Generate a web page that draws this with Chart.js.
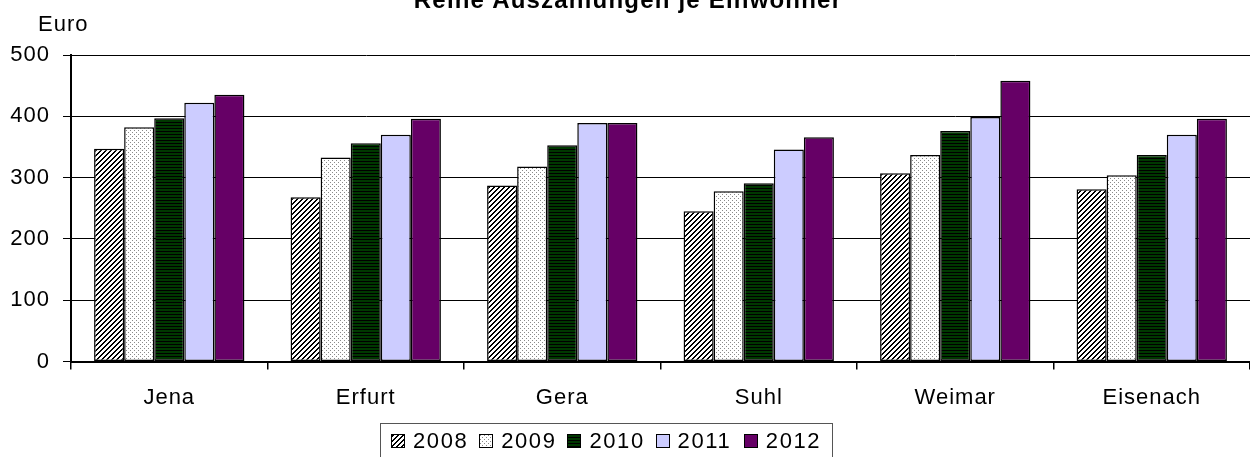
<!DOCTYPE html>
<html>
<head>
<meta charset="utf-8">
<script src="https://cdn.jsdelivr.net/npm/chart.js@4/dist/chart.umd.min.js"></script>
<style>
  body { margin: 0; background: #fff; font-family: "Liberation Sans", Arial, sans-serif; }
  #wrap { position: relative; width: 1250px; height: 457px; overflow: hidden; }
  #title { position: absolute; left: 0; width: 1256px; top: -14px; text-align: center; font-weight: bold; font-size: 24px; letter-spacing: 1.2px; color: #000; }
  #unit { position: absolute; left: 38px; top: 11px; font-size: 22px; letter-spacing: 1px; color: #000; }
  #legend { position: absolute; left: 380px; top: 423px; width: 453px; height: 40px; border: 1px solid #555; box-sizing: border-box;
            display: flex; align-items: flex-start; padding: 4px 0 0 10px; font-size: 22px; letter-spacing: 1.6px; color: #000; }
  #legend .item { display: flex; align-items: center; width: 90px; }
  #legend canvas { border: 1px solid #000; margin-right: 8px; }
</style>
</head>
<body>
<div id="wrap">
  <canvas id="chart"></canvas>
  <div id="title">Reine Auszahlungen je Einwohner</div>
  <div id="unit">Euro</div>
  <div id="legend"></div>
</div>
<script>
// Reine Auszahlungen je Einwohner, Euro, by city and year
const cities = ['Jena', 'Erfurt', 'Gera', 'Suhl', 'Weimar', 'Eisenach'];
const years = ['2008', '2009', '2010', '2011', '2012'];

const values2008 = [347, 268, 287, 245, 307, 281];
const values2009 = [382, 333, 318, 278, 337, 304];
const values2010 = [397, 356, 353, 291, 376, 337];
const values2011 = [422, 370, 389, 346, 399, 370];
const values2012 = [435, 396, 389, 366, 458, 396];

const yTicks = [0, 100, 200, 300, 400, 500];

// Build the fill patterns used by Excel-style bars
function makePattern(w, h, paint) {
  const c = document.createElement('canvas');
  c.width = w;
  c.height = h;
  const ctx = c.getContext('2d');
  paint(ctx, w, h);
  return c;
}

const patternTiles = [
  // 2008: black diagonal hatch on white
  makePattern(5, 5, (ctx, w, h) => {
    ctx.fillStyle = '#fff';
    ctx.fillRect(0, 0, w, h);
    ctx.fillStyle = '#000';
    for (let x = 0; x < w; x++) {
      for (let y = 0; y < h; y++) {
        if ((x + y) % 5 < 2) ctx.fillRect(x, y, 1, 1);
      }
    }
  }),
  // 2009: sparse grey dots on white
  makePattern(4, 4, (ctx, w, h) => {
    ctx.fillStyle = '#fff';
    ctx.fillRect(0, 0, w, h);
    ctx.fillStyle = '#8a8a8a';
    ctx.fillRect(0, 0, 1, 1);
    ctx.fillRect(2, 2, 1, 1);
  }),
  // 2010: dark green with black horizontal stripes
  makePattern(3, 3, (ctx, w, h) => {
    ctx.fillStyle = '#003800';
    ctx.fillRect(0, 0, w, h);
    ctx.fillStyle = '#000';
    ctx.fillRect(0, 2, w, 1);
  }),
  // 2011: light lavender
  makePattern(1, 1, (ctx) => { ctx.fillStyle = '#ccccff'; ctx.fillRect(0, 0, 1, 1); }),
  // 2012: purple
  makePattern(1, 1, (ctx) => { ctx.fillStyle = '#660066'; ctx.fillRect(0, 0, 1, 1); })
];

const mainCtx = document.getElementById('chart').getContext('2d');
const fills = patternTiles.map(t => mainCtx.createPattern(t, 'repeat'));
const seriesValues = [values2008, values2009, values2010, values2011, values2012];

const datasets = years.map((year, i) => ({
  label: year,
  data: seriesValues[i],
  backgroundColor: fills[i],
  borderColor: '#000',
  borderWidth: 1.5,
  borderSkipped: false,
  barPercentage: 1,
  categoryPercentage: 0.765
}));

// Excel text is a bit wider than canvas text; canvas resets letterSpacing on resize
const letterSpacingPlugin = {
  id: 'letterSpacing',
  beforeUpdate(chart) { chart.ctx.letterSpacing = '1px'; },
  beforeDraw(chart) { chart.ctx.letterSpacing = '1px'; }
};

new Chart(mainCtx, {
  type: 'bar',
  data: { labels: cities, datasets: datasets },
  plugins: [letterSpacingPlugin],
  options: {
    responsive: true,
    maintainAspectRatio: false,
    animation: false,
    layout: { padding: { top: 55, right: 0, bottom: 31, left: 9 } },
    plugins: {
      legend: { display: false },
      tooltip: { enabled: false }
    },
    scales: {
      x: {
        grid: { display: true, offset: true, drawOnChartArea: false, color: '#000', tickLength: 8, lineWidth: 1.5 },
        border: { color: '#000', width: 2 },
        ticks: { color: '#000', padding: 15, font: { family: 'Liberation Sans', size: 22 } }
      },
      y: {
        min: 0,
        max: 500,
        afterBuildTicks: axis => { axis.ticks = yTicks.map(v => ({ value: v })); },
        afterFit: axis => { axis.width = 62; },
        grid: { color: '#000', lineWidth: 1, tickLength: 8 },
        border: { color: '#000', width: 2 },
        ticks: { color: '#000', padding: 13, font: { family: 'Liberation Sans', size: 22 } }
      }
    }
  }
});

// HTML legend with the same swatches
const legendDiv = document.getElementById('legend');
years.forEach((year, i) => {
  const item = document.createElement('div');
  item.className = 'item';
  const sw = document.createElement('canvas');
  sw.width = 12;
  sw.height = 12;
  const sctx = sw.getContext('2d');
  sctx.fillStyle = sctx.createPattern(patternTiles[i], 'repeat');
  sctx.fillRect(0, 0, 12, 12);
  const label = document.createElement('span');
  label.textContent = year;
  item.appendChild(sw);
  item.appendChild(label);
  legendDiv.appendChild(item);
});
</script>
</body>
</html>
